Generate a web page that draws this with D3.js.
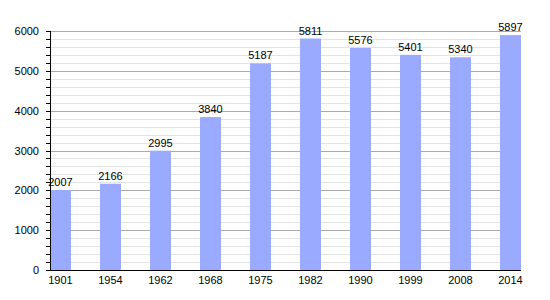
<!DOCTYPE html>
<html>
<head>
<meta charset="utf-8">
<script src="https://cdn.jsdelivr.net/npm/d3@7"></script>
<style>
  body { margin: 0; background: #fff; }
  text { font-family: "Liberation Sans", Arial, sans-serif; }
</style>
</head>
<body>
<div id="chart"></div>
<script>
// Population by census year
const years = ["1901", "1954", "1962", "1968", "1975", "1982", "1990", "1999", "2008", "2014"];
const population = [2007, 2166, 2995, 3840, 5187, 5811, 5576, 5401, 5340, 5897];
const yTicks = [0, 1000, 2000, 3000, 4000, 5000, 6000];

const width = 550, height = 300;
const marginLeft = 50, plotTop = 31, plotBottom = 270;
const step = 50, barW = 21;

const svg = d3.select("#chart").append("svg")
    .attr("width", width)
    .attr("height", height);

// bands: step 50px, bar 21px, first bar sits on the axis
const x = d3.scaleBand()
    .domain(years)
    .range([marginLeft, marginLeft + step * (years.length - 1) + barW])
    .paddingInner(1 - barW / step)
    .paddingOuter(0);

const y = d3.scaleLinear()
    .domain([0, 6000])
    .range([plotBottom, plotTop]);

const gridRight = x(years[years.length - 1]) + x.bandwidth();

// minor gridlines every 200
const minor = d3.range(200, 6000, 200).filter(v => v % 1000 !== 0);
svg.append("g")
    .selectAll("line")
    .data(minor)
    .join("line")
    .attr("x1", marginLeft).attr("x2", gridRight)
    .attr("y1", d => Math.round(y(d)) + 0.5).attr("y2", d => Math.round(y(d)) + 0.5)
    .style("stroke", "#e3e3e3")
    .style("stroke-width", 1);

// major gridlines
svg.append("g")
    .selectAll("line")
    .data(yTicks.slice(1))
    .join("line")
    .attr("x1", marginLeft).attr("x2", gridRight)
    .attr("y1", d => Math.round(y(d)) + 0.5).attr("y2", d => Math.round(y(d)) + 0.5)
    .style("stroke", "#aaaaaa")
    .style("stroke-width", 1);

// bars
svg.append("g")
    .selectAll("rect")
    .data(population)
    .join("rect")
    .attr("x", (d, i) => x(years[i]))
    .attr("y", d => y(d))
    .attr("width", x.bandwidth())
    .attr("height", d => y(0) - y(d))
    .style("fill", "#99aaff");

// value labels
svg.append("g")
    .selectAll("text")
    .data(population)
    .join("text")
    .attr("x", (d, i) => x(years[i]) + x.bandwidth() / 2)
    .attr("y", d => y(d) - 4)
    .attr("text-anchor", "middle")
    .attr("font-size", "11px")
    .style("fill", "#000")
    .text(d => d);

// y axis with minor ticks
const yAxis = svg.append("g");
yAxis.append("line")
    .attr("x1", marginLeft + 0.5).attr("x2", marginLeft + 0.5)
    .attr("y1", plotTop).attr("y2", plotBottom)
    .style("stroke", "#000");
yAxis.selectAll("line.minor")
    .data(d3.range(0, 6001, 200))
    .join("line")
    .attr("class", "minor")
    .attr("x1", marginLeft - 4).attr("x2", marginLeft)
    .attr("y1", d => Math.round(y(d)) + 0.5).attr("y2", d => Math.round(y(d)) + 0.5)
    .style("stroke", "#000");
yAxis.selectAll("text")
    .data(yTicks)
    .join("text")
    .attr("x", marginLeft - 11)
    .attr("y", d => y(d) + 4)
    .attr("text-anchor", "end")
    .attr("font-size", "11px")
    .text(d => d);

// x axis
svg.append("line")
    .attr("x1", marginLeft).attr("x2", gridRight)
    .attr("y1", plotBottom + 0.5).attr("y2", plotBottom + 0.5)
    .style("stroke", "#000");
svg.append("g")
    .selectAll("text")
    .data(years)
    .join("text")
    .attr("x", d => x(d) + x.bandwidth() / 2)
    .attr("y", plotBottom + 14)
    .attr("text-anchor", "middle")
    .attr("font-size", "11px")
    .text(d => d);
</script>
</body>
</html>
